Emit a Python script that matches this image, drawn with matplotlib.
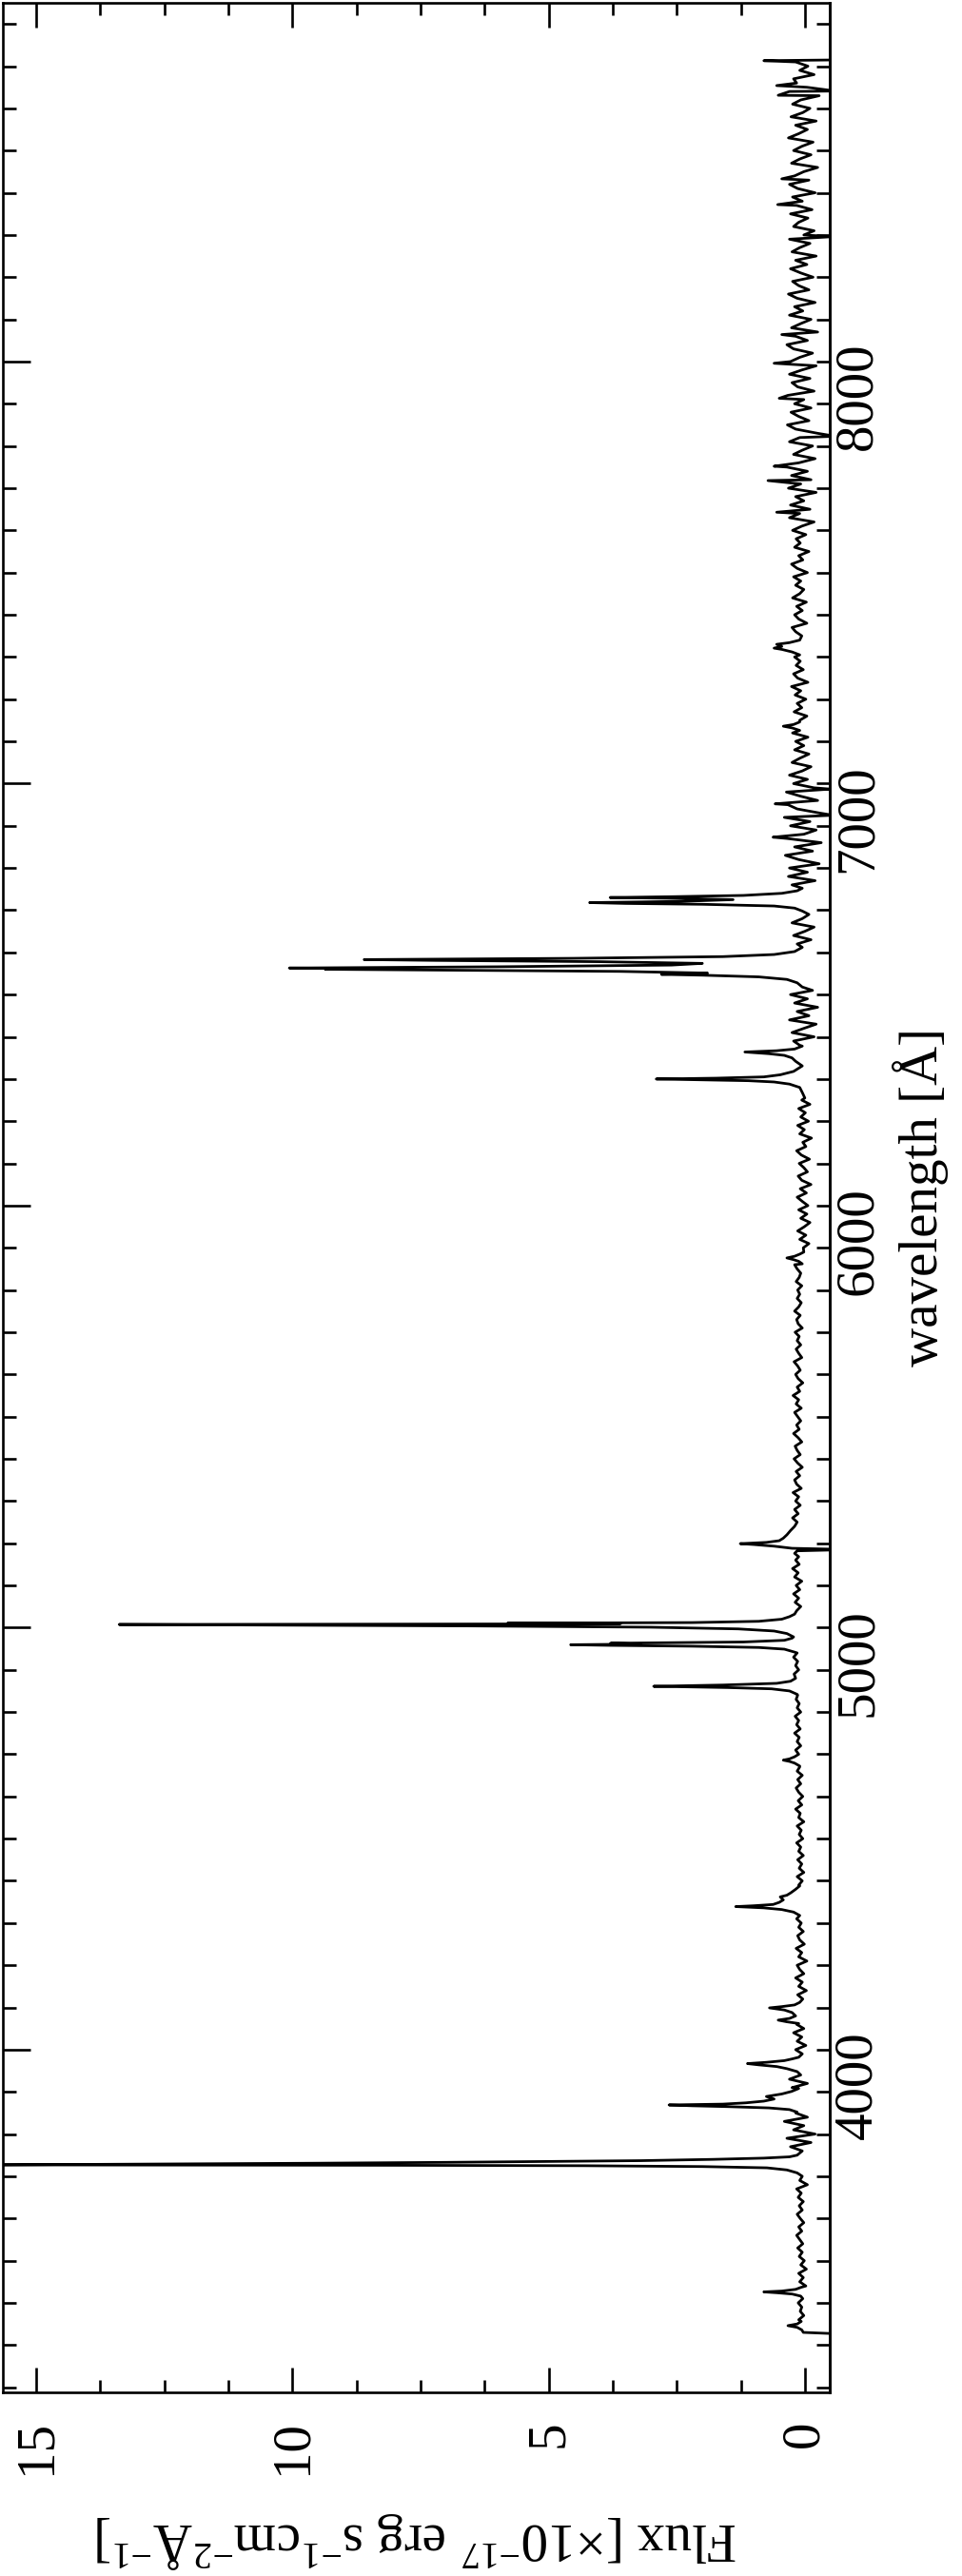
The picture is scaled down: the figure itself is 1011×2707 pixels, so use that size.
import numpy as np
import matplotlib
matplotlib.use('Agg')
import matplotlib.pyplot as plt
from matplotlib.ticker import MultipleLocator, FixedLocator

plt.rcParams['font.family'] = 'serif'
plt.rcParams['font.serif'] = ['Liberation Serif', 'DejaVu Serif']
plt.rcParams['mathtext.fontset'] = 'custom'
plt.rcParams['mathtext.rm'] = 'Liberation Serif'
plt.rcParams['mathtext.it'] = 'Liberation Serif:italic'

# continuum, 10 A grid (values inside line windows are replaced by the line profiles)
cont_blue_start = 3330
cont_blue = [
    0.03, 0.10, 0.05, 0.12, 0.02, 0.09, 0.06, 0.13, 0.04, 0.08,    # 3330
    0.15, -0.02, 0.10, 0.03, 0.12, -0.03, 0.08, 0.01, 0.11, 0.05,  # 3430
    0.14, 0.04, 0.10, 0.16, 0.06, 0.12, 0.02, 0.09, 0.15, 0.05,    # 3530
    0.11, 0.03, 0.13, 0.07, 0.16, -0.05, 0.10, 0.12, 0.2, 0.3,     # 3630
    0.3, 0.2, 0.12, 0.05, 0.28, -0.12, 0.35, -0.2, 0.22, 0.02,     # 3730
    0.40, -0.05, 0.18, 0.3, 0.3, 0.4, 0.5, 0.4, 0.25, -0.05,       # 3830
    0.30, 0.08, 0.20, 0.3, 0.5, 0.2, 0.05, 0.18, -0.02, 0.15,      # 3930
    0.06, 0.22, 0.02, 0.16, 0.3, 0.3, 0.3, 0.4, 0.2, 0.04,         # 4030
    0.14, -0.03, 0.12, 0.05, 0.18, 0.02, 0.10, 0.15, -0.04, 0.12,  # 4130
    0.06, 0.17, 0.01, 0.10, 0.14, 0.03, 0.12, 0.07, 0.16, 0.2,     # 4230
    0.4, 1.0, 0.5, 0.4, 0.3, 0.2, 0.12, 0.05, 0.15, 0.02,          # 4330
    0.11, 0.06, 0.14, 0.03, 0.12, 0.08, 0.16, 0.04, 0.11, 0.07,    # 4430
    0.15, 0.02, 0.12, 0.09, 0.18, 0.06, 0.13, 0.04, 0.12, 0.17,    # 4530
    0.08, 0.14, 0.05, 0.15, 0.10, 0.3, 0.3, 0.12, 0.18, 0.08,      # 4630
    0.15, 0.11, 0.20, 0.09, 0.16, 0.12, 0.19, 0.08, 0.15, 0.11,    # 4730
    0.17, 0.14, 0.3, 1.0, 0.4, 0.16, 0.21, 0.12, 0.18, 0.14,       # 4830
    0.22, 0.15, 0.5, 2.0, 0.3, 0.2, 0.3,                           # 4930
]

cont_mid_start = 5000
cont_mid = [
    3.0, 0.5, 0.3, 0.3, 0.16, 0.08, 0.19, 0.12, 0.22, 0.10,        # 5000
    0.17, 0.06, 0.20, 0.13, 0.24, 0.11, 0.18, 0.2, 0.2, 0.3,       # 5100
    1.0, 0.5, 0.4, 0.3, 0.2, 0.15, 0.24, 0.13, 0.20, 0.09,         # 5200
    0.18, 0.12, 0.23, 0.07, 0.16, 0.20, 0.10, 0.17, 0.05, 0.14,    # 5300
    0.21, 0.09, 0.15, 0.19, 0.06, 0.13, 0.22, 0.11, 0.16, 0.08,    # 5400
    0.14, 0.20, 0.07, 0.17, 0.12, 0.23, 0.10, 0.15, 0.04, 0.13,    # 5500
    0.18, 0.09, 0.14, 0.21, 0.06, 0.12, 0.17, 0.08, 0.15, 0.11,    # 5600
    0.19, 0.05, 0.13, 0.16, 0.09, 0.20, 0.12, 0.07, 0.15, 0.10,    # 5700
    0.14, 0.06, 0.17, 0.11, 0.08, 0.15, 0.2, 0.3, 0.2, 0.1,        # 5800
    0.03, -0.08, 0.10, -0.02, 0.14, 0.01, -0.10, 0.08, -0.04, 0.12,  # 5900
    -0.06, 0.05, 0.15, -0.03, 0.09, -0.12, 0.06, 0.13, -0.05, 0.02,  # 6000
    0.11, -0.09, 0.07, 0.16, -0.02, 0.04, -0.13, 0.10, 0.01, 0.14,   # 6100
    -0.07, 0.08, -0.01, 0.12, -0.10, 0.06, 0.2, 0.3, 0.5, 0.6,       # 6200
    2.0, 0.5, 0.2, 0.1, 0.2, 0.3, 0.8, 0.3, 0.1, 0.22,               # 6300
    -0.18, 0.25, 0.02, -0.22, 0.30, -0.08, 0.15, -0.25, 0.20, -0.05, # 6400
]

cont_red_start = 6500
cont_red = [
    0.28, -0.15, 0.3, 0.5, 1.0, 5.0, 8.0, 4.0, 8.0, 1.0,             # 6500
    0.3, 0.2, 0.15, -0.12, 0.22, 0.0, -0.18, 0.25, 0.05, -0.08,      # 6600
    0.5, 3.0, 2.0, 1.0, 0.4, 0.1, 0.25, -0.2, 0.32, -0.05,           # 6700
    0.30, -0.28, 0.12, 0.38, -0.15, 0.20, -0.32, 0.35, 0.02, -0.22,  # 6800
    0.28, -0.10, 0.40, -0.30, 0.15, 0.33, -0.25, 0.08, 0.36, -0.18,  # 6900
    0.22, -0.05, 0.30, 0.05, -0.12, 0.25, 0.10, -0.08, 0.20, 0.02,   # 7000
    0.18, -0.06, 0.24, 0.3, 0.3, 0.10, -0.04, 0.21, 0.06, 0.15,      # 7100
    -0.02, 0.19, 0.08, 0.26, -0.06, 0.14, 0.22, 0.03, 0.17, 0.09,    # 7200
    0.20, 0.3, 0.5, 0.5, 0.3, 0.06, 0.18, 0.25, -0.04, 0.12,         # 7300
    0.20, 0.05, 0.16, -0.03, 0.24, 0.10, 0.02, 0.18, 0.08, 0.22,     # 7400
    -0.05, 0.15, 0.26, 0.04, 0.12, -0.08, 0.20, 0.09, 0.17, -0.02,   # 7500
    0.24, 0.06, -0.18, 0.30, 0.10, -0.10, 0.28, 0.02, 0.18, -0.22,   # 7600
    0.32, 0.08, -0.12, 0.26, -0.05, 0.35, 0.12, -0.20, 0.22, 0.05,   # 7700
    -0.15, 0.30, 0.10, -0.25, 0.18, 0.34, -0.08, 0.12, 0.27, -0.12,  # 7800
    0.20, 0.02, 0.33, -0.18, 0.14, 0.25, -0.10, 0.30, 0.06, -0.22,   # 7900
    0.28, 0.10, -0.15, 0.22, 0.35, -0.05, 0.18, -0.25, 0.26, 0.08,   # 8000
    -0.12, 0.30, 0.04, 0.20, -0.20, 0.15, 0.32, -0.08, 0.12, 0.24,   # 8100
    -0.16, 0.08, 0.28, -0.04, 0.18, -0.22, 0.25, 0.10, -0.10, 0.30,  # 8200
    0.02, -0.18, 0.22, 0.12, -0.06, 0.28, -0.14, 0.16, 0.05, 0.24,   # 8300
    -0.20, 0.14, 0.30, -0.08, 0.20, 0.02, -0.25, 0.26, 0.10, -0.12,  # 8400
    0.22, 0.06, -0.16, 0.32, 0.12, -0.05, 0.18, -0.22, 0.27, 0.04,   # 8500
    -0.10, 0.24, 0.08, -0.28, 0.30, -0.04, 0.16, 0.22, -0.18, 0.10,  # 8600
    -0.06, 0.18,                                                     # 8700
]

# emission lines
nev1_wave = [3336, 3342, 3346, 3350, 3356]
nev1_flux = [0.06, 0.15, 0.33, 0.15, 0.07]
nev2_wave = [3416, 3421, 3424, 3426, 3428, 3432, 3437]
nev2_flux = [0.08, 0.25, 0.55, 0.8, 0.45, 0.18, 0.07]
oii_wave = [3700, 3708, 3715, 3720, 3723, 3725, 3726, 3727, 3729, 3731, 3733, 3735, 3737, 3740, 3743, 3746, 3750, 3755]
oii_flux = [0.05, 0.15, 0.35, 0.74, 2.0, 4.3, 8.0, 15.9, 12.5, 9.5, 7.0, 5.0, 3.2, 1.8, 0.8, 0.3, 0.15, 0.1]
neiii_wave = [3852, 3858, 3862, 3865, 3867, 3869, 3871, 3874, 3878, 3883, 3889, 3895, 3901, 3908]
neiii_flux = [0.15, 0.3, 0.7, 1.5, 2.2, 2.65, 1.6, 1.15, 0.8, 0.6, 0.75, 0.45, 0.26, 0.12]
heps_wave = [3948, 3955, 3960, 3964, 3967, 3970, 3974, 3978, 3982]
heps_flux = [0.15, 0.35, 0.55, 0.9, 1.12, 0.75, 0.4, 0.25, 0.12]
hdelta_wave = [4062, 4066, 4070, 4074, 4080, 4088, 4094, 4099, 4102, 4106, 4112]
hdelta_flux = [0.12, 0.35, 0.52, 0.3, 0.18, 0.25, 0.4, 0.69, 0.45, 0.2, 0.1]
hgamma_wave = [4318, 4326, 4332, 4336, 4339, 4341, 4344, 4349, 4355, 4362, 4366, 4372, 4380, 4388]
hgamma_flux = [0.1, 0.22, 0.45, 0.8, 1.35, 1.0, 0.62, 0.5, 0.42, 0.48, 0.35, 0.27, 0.18, 0.1]
heii_wave = [4672, 4679, 4683, 4686, 4689, 4694, 4700]
heii_flux = [0.1, 0.2, 0.3, 0.42, 0.3, 0.2, 0.12]
hbeta_wave = [4842, 4850, 4855, 4858, 4861, 4864, 4868, 4873, 4880]
hbeta_flux = [0.15, 0.3, 0.65, 1.5, 2.95, 1.6, 0.55, 0.28, 0.18]
oiii4959_wave = [4942, 4949, 4953, 4956, 4958, 4959.5, 4961, 4963, 4966, 4970, 4975]
oiii4959_flux = [0.2, 0.4, 0.9, 2.2, 3.8, 4.57, 3.2, 3.79, 1.2, 0.4, 0.25]
oiii5007_wave = [4978, 4986, 4992, 4997, 5001, 5004, 5006, 5007.5, 5009, 5010.5, 5012, 5015, 5020, 5026, 5032]
oiii5007_flux = [0.22, 0.35, 0.6, 1.3, 3.0, 6.5, 10.5, 13.38, 3.6, 5.8, 2.2, 0.9, 0.45, 0.3, 0.2]
ni_wave = [5168, 5176, 5182, 5185, 5188, 5193, 5197, 5199, 5202, 5206, 5212, 5220, 5230, 5240, 5250]
ni_flux = [0.12, 0.2, 0.15, -0.9, 0.25, 0.6, 1.0, 1.26, 0.75, 0.5, 0.42, 0.35, 0.28, 0.2, 0.15]
hei_wave = [5862, 5868, 5872, 5876, 5880, 5885, 5890]
hei_flux = [0.05, 0.12, 0.22, 0.35, 0.2, 0.1, 0.02]
oi_wave = [6255, 6268, 6280, 6288, 6293, 6296, 6298, 6300, 6302, 6305, 6310, 6318, 6331, 6342, 6350, 6356, 6360, 6364, 6367, 6371, 6378]
oi_flux = [0.0, 0.05, 0.1, 0.3, 0.6, 1.1, 2.0, 2.9, 1.73, 0.8, 0.48, 0.22, 0.05, 0.18, 0.25, 0.4, 0.7, 1.17, 0.55, 0.2, 0.05]
halpha_wave = [6518, 6528, 6536, 6542, 6546, 6548, 6551, 6555, 6558, 6560, 6561.5, 6563, 6566, 6570, 6574, 6578, 6581, 6583, 6586, 6590, 6595, 6602, 6612]
halpha_flux = [0.05, 0.15, 0.35, 0.9, 2.0, 2.8, 1.9, 3.6, 7.0, 9.36, 8.33, 10.06, 6.0, 2.6, 2.0, 4.0, 7.2, 8.6, 4.5, 1.6, 0.6, 0.2, 0.05]
sii_wave = [6698, 6705, 6710, 6714, 6716, 6718, 6721, 6725, 6728, 6730, 6732, 6735, 6740, 6746, 6752]
sii_flux = [0.05, 0.2, 0.6, 2.0, 3.5, 4.2, 2.4, 1.4, 2.5, 3.8, 2.6, 1.2, 0.45, 0.15, 0.05]
ariii_wave = [7126, 7132, 7136, 7140, 7146]
ariii_flux = [0.1, 0.25, 0.42, 0.22, 0.1]
oii7325_wave = [7305, 7312, 7318, 7321, 7325, 7330, 7334, 7340]
oii7325_flux = [0.1, 0.25, 0.45, 0.6, 0.45, 0.55, 0.3, 0.1]

# sky residual spikes and the two ends of the spectrum
spike_wave = [6873, 6925, 6952, 6987, 7643, 7718, 7752, 7823, 7913, 7996, 8064, 8296, 8372, 8433, 8631, 8641, 8654]
spike_flux = [0.62, -0.55, 0.58, -0.5, 0.55, 0.72, 0.6, -0.6, 0.5, 0.6, 0.45, -0.55, 0.53, 0.45, 0.52, -0.6, 0.55]
edge_wave = [3326, 8713, 8715]
edge_flux = [-0.8, 0.8, -0.8]

wave_ticks = [4000, 5000, 6000, 7000, 8000]
flux_ticks = [0, 5, 10, 15]

lines = [(nev1_wave, nev1_flux), (nev2_wave, nev2_flux), (oii_wave, oii_flux),
         (neiii_wave, neiii_flux), (heps_wave, heps_flux), (hdelta_wave, hdelta_flux),
         (hgamma_wave, hgamma_flux), (heii_wave, heii_flux), (hbeta_wave, hbeta_flux),
         (oiii4959_wave, oiii4959_flux), (oiii5007_wave, oiii5007_flux), (ni_wave, ni_flux),
         (hei_wave, hei_flux), (oi_wave, oi_flux), (halpha_wave, halpha_flux),
         (sii_wave, sii_flux), (ariii_wave, ariii_flux), (oii7325_wave, oii7325_flux)]

wave = []
flux = []
for start, vals in [(cont_blue_start, cont_blue), (cont_mid_start, cont_mid), (cont_red_start, cont_red)]:
    wave.append(start + 10 * np.arange(len(vals)))
    flux.append(np.array(vals, dtype=float))
wave = np.concatenate(wave)
flux = np.concatenate(flux)

# drop the grid points that fall inside a line window
keep = np.ones(len(wave), dtype=bool)
for lw_, lf_ in lines:
    keep &= ~((wave >= min(lw_)) & (wave <= max(lw_)))
wave, flux = wave[keep], flux[keep]

for lw_, lf_ in lines + [(spike_wave, spike_flux), (edge_wave, edge_flux)]:
    wave = np.concatenate([wave, lw_])
    flux = np.concatenate([flux, lf_])
order = np.argsort(wave)
wave, flux = wave[order], flux[order]

W, H = 1011, 2707
fig = plt.figure(figsize=(W / 100, H / 100), dpi=100)
ax = fig.add_axes([3 / W, 1 - 2514 / H, (871.7 - 3) / W, (2514 - 3) / H])

ax.plot(flux, wave, color='black', lw=2.0)

ax.set_xlim(15.65, -0.48)
ax.set_ylim(3188, 8850)

minor_wave = np.arange(3200, 8900, 100)
ax.xaxis.set_major_locator(FixedLocator(flux_ticks))
ax.xaxis.set_minor_locator(MultipleLocator(1.25))
ax.yaxis.set_major_locator(FixedLocator(wave_ticks))
ax.yaxis.set_minor_locator(FixedLocator(minor_wave))

for s in ax.spines.values():
    s.set_linewidth(1.9)

ax.tick_params(axis='x', which='both', direction='in', top=True, bottom=True, width=1.9,
               labelsize=41, labelrotation=90, pad=21)
ax.tick_params(axis='x', which='major', length=18.7)
ax.tick_params(axis='x', which='minor', length=9.4)
ax.tick_params(axis='y', which='both', direction='in', left=True, right=False,
               labelleft=False, width=1.9)
ax.tick_params(axis='y', which='major', length=20.9)
ax.tick_params(axis='y', which='minor', length=10)

# right side: short ticks everywhere, labels only at the thousands
sec = ax.secondary_yaxis('right')
sec.yaxis.set_major_locator(FixedLocator(wave_ticks))
sec.yaxis.set_minor_locator(FixedLocator(minor_wave))
sec.spines['right'].set_linewidth(1.9)
sec.tick_params(axis='y', which='both', direction='in', length=10, width=1.9,
                labelsize=41, labelrotation=90, pad=3)
sec.set_ylabel('wavelength [Å]', fontsize=41, rotation=90, labelpad=7)

ax.set_xlabel('Flux [×10$^{-17}$ erg s$^{-1}$cm$^{-2}$Å$^{-1}$]', fontsize=41,
              rotation=180, labelpad=27)

fig.savefig('out.png', dpi=100)
